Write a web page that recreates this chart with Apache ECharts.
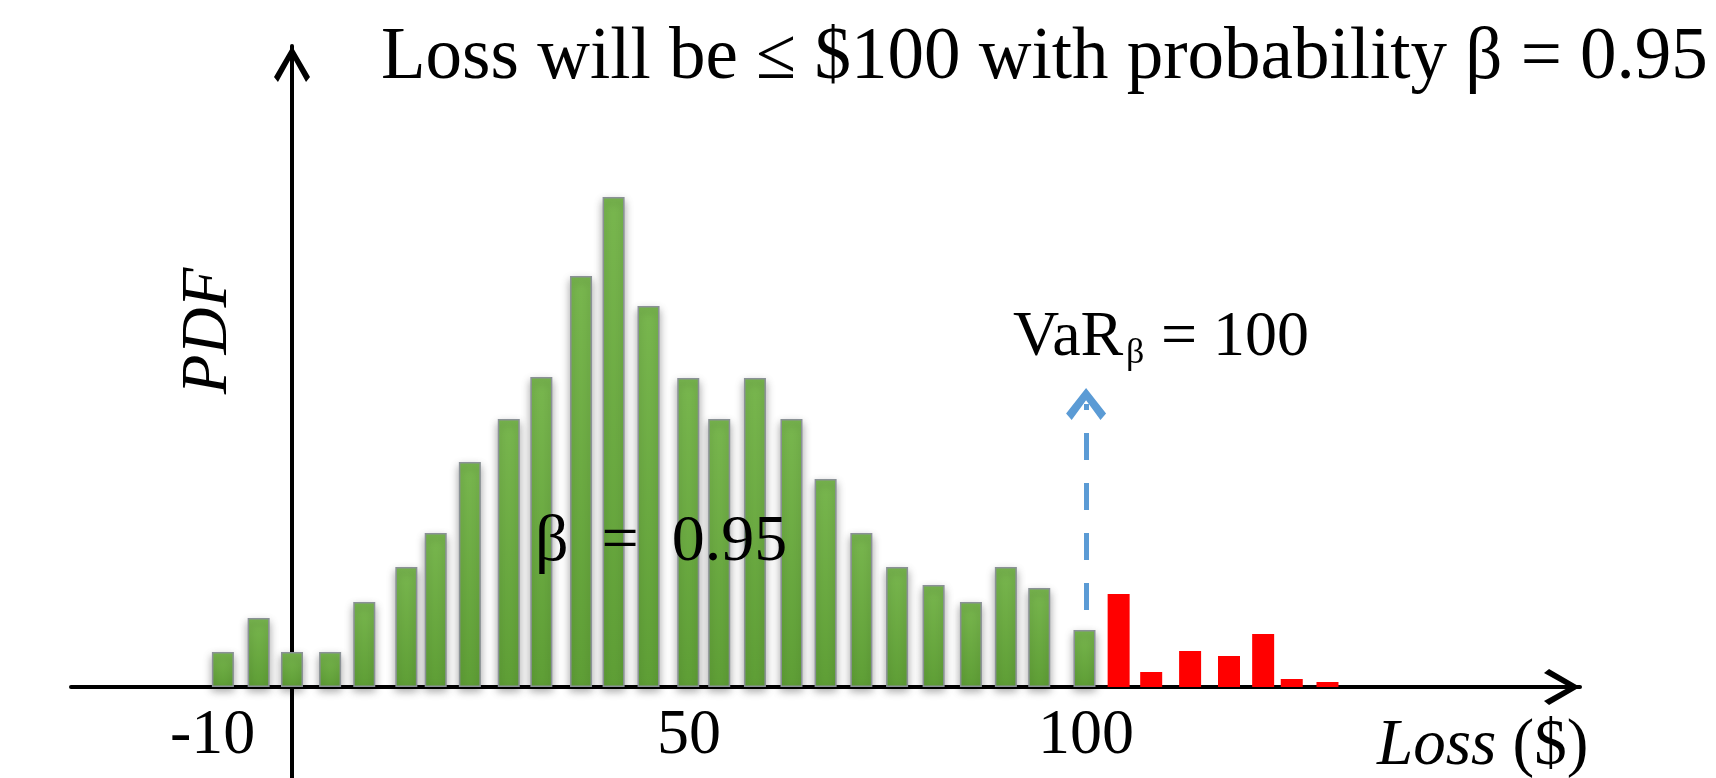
<!DOCTYPE html>
<html>
<head>
<meta charset="utf-8">
<script src="https://cdn.jsdelivr.net/npm/echarts@6/dist/echarts.min.js"></script>
<style>
html,body{margin:0;padding:0;background:#fff;}
#chart{width:1716px;height:778px;}
</style>
</head>
<body>
<div id="chart"></div>
<script>
// ---- data (Loss in $, PDF in relative units) ----
const greenLoss = [-8.7, -4.2, 0, 4.8, 9.1, 14.4, 18.1, 22.4, 27.3, 31.4, 36.4, 40.5, 44.9, 49.9, 53.8, 58.3, 62.9, 67.2, 71.7, 76.2, 80.8, 85.5, 89.9, 94.1, 99.8];
const greenPdf  = [3.5, 6.9, 3.5, 3.5, 8.5, 12.0, 15.4, 22.5, 26.8, 31.0, 41.1, 49.0, 38.1, 30.9, 26.8, 30.9, 26.8, 20.8, 15.4, 12.0, 10.2, 8.5, 12.0, 9.9, 5.7];
const redLoss   = [104.1, 108.2, 113.1, 118.0, 122.3, 125.9, 130.4];
const redPdf    = [9.3, 1.5, 3.6, 3.1, 5.3, 0.8, 0.5];
const xTickLabels = [-10, 50, 100];
const varValue = 100;
const varArrowFrom = 7.7;   // PDF level where the dashed VaR arrow starts
const varArrowTo = 28.3;    // PDF level where it ends
const titleText = 'Loss will be \u2264 $100 with probability \u03b2 = 0.95';

const FONT = "'Liberation Serif', 'Times New Roman', serif";
const chevron = 'path://M50,0 L100,86 L89,100 L50,30 L11,100 L0,86 Z';
const chevronBold = 'path://M50,0 L100,80 L86,100 L50,38 L14,100 L0,80 Z';

const chart = echarts.init(document.getElementById('chart'), null, {renderer: 'canvas'});

const greenData = greenLoss.map((x, i) => [x, greenPdf[i]]);
const redData = redLoss.map((x, i) => [x, redPdf[i]]);

const option = {
  animation: false,
  backgroundColor: '#ffffff',
  grid: {left: 71, right: 136, top: 46, bottom: 0, containLabel: false, outerBoundsMode: 'none'},
  xAxis: {
    type: 'value',
    min: -27.83,
    max: 162.2,
    splitLine: {show: false},
    axisTick: {show: false},
    axisLine: {
      onZero: true,
      lineStyle: {color: '#000', width: 4},
      symbol: ['none', chevron],
      symbolSize: [36, 36],
      symbolOffset: [0, -18]
    },
    axisLabel: {
      customValues: xTickLabels,
      formatter: v => (xTickLabels.indexOf(v) >= 0 ? String(v) : ''),
      color: '#000',
      fontFamily: FONT,
      fontSize: 64,
      lineHeight: 64,
      margin: -74
    }
  },
  yAxis: {
    type: 'value',
    min: -9.1,
    max: 64.1,
    splitLine: {show: false},
    axisTick: {show: false},
    axisLabel: {show: false},
    axisLine: {
      onZero: true,
      lineStyle: {color: '#000', width: 4},
      symbol: ['none', chevron],
      symbolSize: [36, 36],
      symbolOffset: [0, -18]
    }
  },
  series: [
    {
      name: 'within VaR',
      type: 'bar',
      stack: 'pdf',
      barWidth: 22,
      data: greenData,
      z: 3,
      itemStyle: {
        color: new echarts.graphic.LinearGradient(0, 0, 0, 1, [
          {offset: 0, color: '#79b74f'},
          {offset: 1, color: '#5f9f36'}
        ]),
        borderColor: '#8a9196',
        borderWidth: 1.5,
        shadowColor: 'rgba(0,0,0,0.35)',
        shadowBlur: 9,
        shadowOffsetX: 0,
        shadowOffsetY: 4
      },
      emphasis: {disabled: true}
    },
    {
      name: 'tail',
      type: 'bar',
      stack: 'pdf',
      barWidth: 22,
      data: redData,
      z: 3,
      itemStyle: {color: '#ff0000'},
      emphasis: {disabled: true},
      markLine: {
        silent: true,
        symbol: ['none', chevronBold],
        symbolSize: [40, 32],
        label: {show: false},
        lineStyle: {color: '#5b9bd5', width: 5, type: [27, 23], cap: 'butt'},
        emphasis: {disabled: true},
        data: [[{coord: [varValue, varArrowFrom]}, {coord: [varValue, varArrowTo]}]]
      }
    }
  ],
  graphic: [
    {
      type: 'text', x: 381, y: 59, silent: true,
      style: {text: titleText, font: "73px " + FONT, fill: '#000', align: 'left', verticalAlign: 'middle'}
    },
    {
      type: 'text', x: 208.5, y: 331, rotation: Math.PI / 2, silent: true,
      style: {text: 'PDF', font: "italic 65px " + FONT, fill: '#000', align: 'center', verticalAlign: 'middle'}
    },
    {
      type: 'text', x: 1013, y: 338, silent: true,
      style: {text: 'VaR', font: "64px " + FONT, fill: '#000', align: 'left', verticalAlign: 'middle'}
    },
    {
      type: 'text', x: 1126, y: 354, silent: true,
      style: {text: '\u03b2', font: "36px " + FONT, fill: '#000', align: 'left', verticalAlign: 'middle'}
    },
    {
      type: 'text', x: 1145, y: 338, silent: true,
      style: {text: ' = 100', font: "64px " + FONT, fill: '#000', align: 'left', verticalAlign: 'middle'}
    },
    {
      type: 'text', x: 535, y: 543, silent: true, z: 10,
      style: {text: '\u03b2  =  0.95', font: "66px " + FONT, fill: '#000', align: 'left', verticalAlign: 'middle'}
    },
    {
      type: 'text', x: 1377, y: 746.5, silent: true,
      style: {
        text: '{i|Loss} {r|($)}',
        align: 'left', verticalAlign: 'middle',
        rich: {
          i: {fontFamily: FONT, fontStyle: 'italic', fontSize: 65, fill: '#000', color: '#000'},
          r: {fontFamily: FONT, fontSize: 65, fill: '#000', color: '#000'}
        },
        fontFamily: FONT, fontSize: 65, fill: '#000'
      }
    }
  ]
};
chart.setOption(option);
</script>
</body>
</html>
